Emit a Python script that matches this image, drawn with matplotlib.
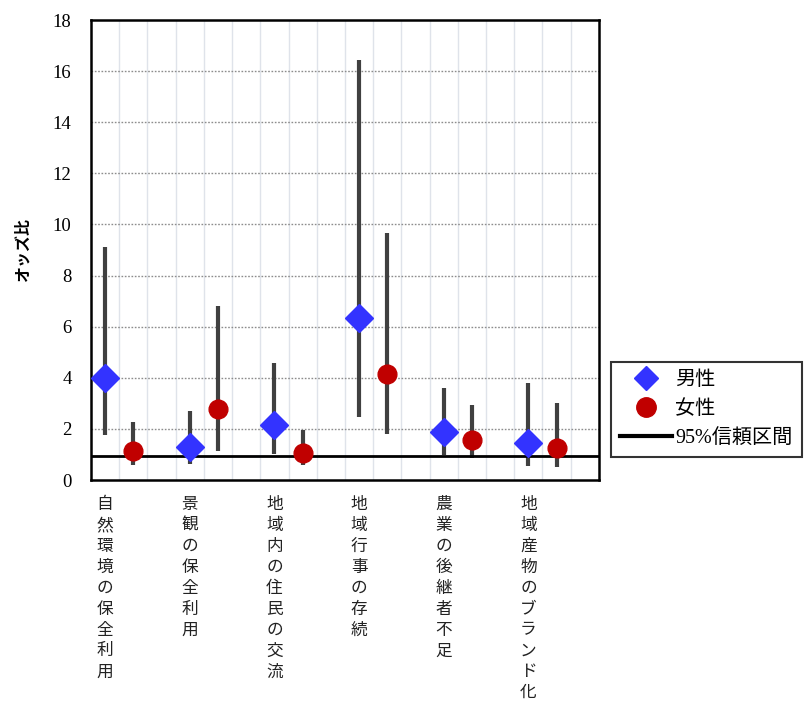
import matplotlib.pyplot as plt
from matplotlib.lines import Line2D
from matplotlib.transforms import blended_transform_factory

plt.rcParams['font.family'] = ['Liberation Serif', 'Noto Sans CJK JP', 'DejaVu Sans']

categories = ["自然環境の保全利用", "景観の保全利用", "地域内の住民の交流",
              "地域行事の存続", "農業の後継者不足", "地域産物のブランド化"]

male_or = [4.0, 1.30, 2.15, 6.35, 1.87, 1.46]
male_lo = [1.76, 0.63, 1.02, 2.45, 0.98, 0.55]
male_hi = [9.10, 2.70, 4.59, 16.43, 3.59, 3.78]

female_or = [1.15, 2.77, 1.07, 4.15, 1.56, 1.24]
female_lo = [0.59, 1.13, 0.57, 1.80, 0.85, 0.52]
female_hi = [2.27, 6.81, 1.96, 9.68, 2.93, 3.01]

ref_line = 0.95

fig = plt.figure(figsize=(8.05, 7.02), dpi=100)
ax = fig.add_axes([0.113, 0.3162, 0.631, 0.6553])

male_x = [3 * i + 0.5 for i in range(len(categories))]
female_x = [3 * i + 1.5 for i in range(len(categories))]

# vertical light grid at every unit, dotted horizontal grid
for gx in range(1, 18):
    ax.axvline(gx, color='#dfe3ea', lw=1.0, zorder=0)
for gy in range(2, 18, 2):
    ax.axhline(gy, color='#8c8c8c', lw=1.0, ls=(0, (1.2, 1.2)), zorder=0)

ax.vlines(male_x, male_lo, male_hi, color='#404040', lw=3.0, zorder=2)
ax.vlines(female_x, female_lo, female_hi, color='#404040', lw=3.0, zorder=2)
ax.axhline(ref_line, color='black', lw=2.0, zorder=3)

ax.plot(male_x, male_or, ls='none', marker='D', ms=14, color='#3333ff',
        mec='#3333ff', zorder=4)
ax.plot(female_x, female_or, ls='none', marker='o', ms=13.5, color='#c00000',
        mec='#c00000', zorder=4)

ax.set_xlim(0, 18)
ax.set_ylim(0, 18)
ax.set_xticks([])
ax.set_yticks(range(0, 19, 2))
ax.tick_params(axis='y', length=0, pad=14)
for lab in ax.get_yticklabels():
    lab.set_family(['Liberation Serif'])
    lab.set_fontsize(13.5)
for s in ax.spines.values():
    s.set_linewidth(1.8)
    s.set_color('black')

ax.set_ylabel("オッズ比", family=['Noto Sans CJK JP'], fontsize=11.5,
              fontweight='bold', labelpad=16)

trans = blended_transform_factory(ax.transData, ax.transAxes)
for x, name in zip(male_x, categories):
    ax.text(x, -0.035, "\n".join(name), transform=trans, ha='center', va='top',
            fontsize=12, family=['Noto Sans CJK JP'], linespacing=1.3,
            color='#222222')

handles = [
    Line2D([], [], ls='none', marker='D', ms=12, color='#3333ff'),
    Line2D([], [], ls='none', marker='o', ms=14, color='#c00000'),
    Line2D([], [], color='black', lw=3),
]
leg = fig.legend(handles, ["男性", "女性", "95%信頼区間"], loc='upper left',
                 bbox_to_anchor=(0.759, 0.485), frameon=True, fancybox=False,
                 edgecolor='black', fontsize=14.5, handlelength=2.6,
                 borderpad=0.45, labelspacing=0.5, handletextpad=0.15,
                 borderaxespad=0)
leg.get_frame().set_linewidth(1.5)

fig.savefig("out.png", dpi=100)
